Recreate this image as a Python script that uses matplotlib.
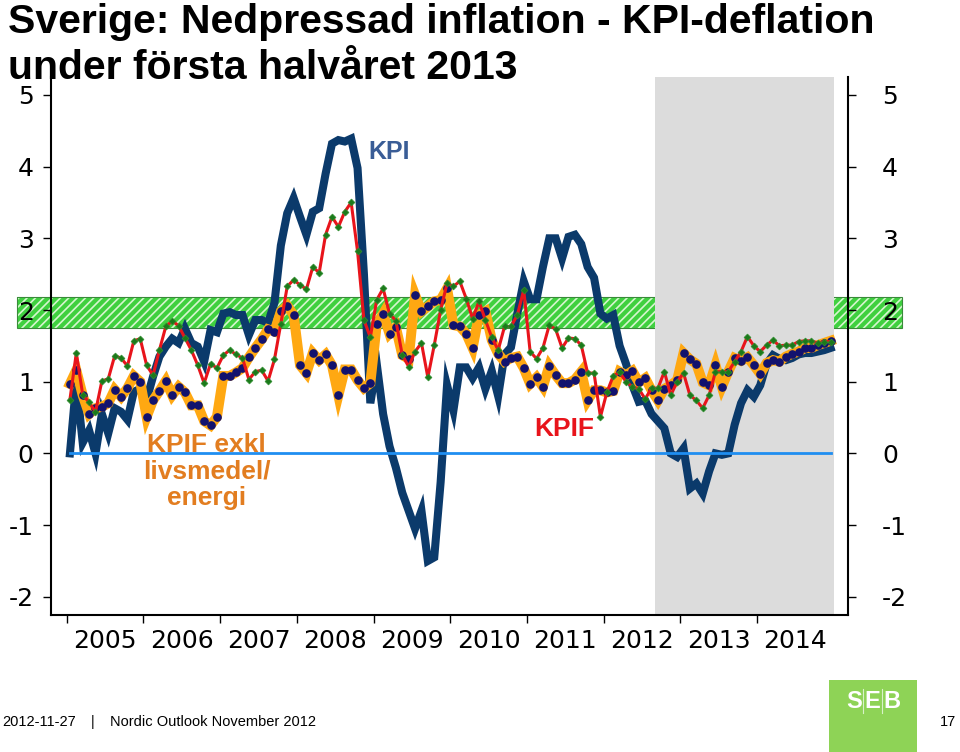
import matplotlib
matplotlib.use("Agg")
import matplotlib.pyplot as plt
import numpy as np
from matplotlib.patches import Rectangle

# --- data (annual change, %, monthly Jan 2005 - Dec 2014) ---
years = [2005, 2006, 2007, 2008, 2009, 2010, 2011, 2012, 2013, 2014]
year_labels = [str(y) for y in years]
yticks = [-2, -1, 0, 1, 2, 3, 4, 5]
ytick_labels = ["-2", "-1", "0", "1", "2", "3", "4", "5"]

kpi = [
    0.0, 1.0, 0.15, 0.32, 0.0, 0.55, 0.28, 0.63, 0.58, 0.47, 0.86, 0.9,
    0.75, 1.07, 1.35, 1.49, 1.6, 1.54, 1.74, 1.54, 1.49, 1.28, 1.72, 1.69,
    1.95, 1.97, 1.93, 1.93, 1.65, 1.86, 1.86, 1.82, 2.1, 2.9, 3.35, 3.56,
    3.3, 3.05, 3.37, 3.42, 3.9, 4.32, 4.37, 4.35, 4.39, 3.98, 2.5, 0.7,
    1.25, 0.55, 0.1, -0.2, -0.55, -0.8, -1.05, -0.8, -1.5, -1.45, -0.4, 0.95,
    0.6, 1.2, 1.2, 1.05, 1.2, 0.9, 1.15, 0.8, 1.38, 1.48, 1.95, 2.4,
    2.15, 2.15, 2.6, 3.0, 3.0, 2.72, 3.02, 3.05, 2.92, 2.6, 2.45, 1.95,
    1.88, 1.93, 1.5, 1.25, 0.95, 0.72, 0.74, 0.55, 0.45, 0.35, 0.0, -0.05,
    0.07, -0.49, -0.42, -0.56, -0.25, 0.0, -0.02, 0.0, 0.4, 0.7, 0.88, 0.79,
    0.95, 1.25, 1.37, 1.32, 1.30, 1.33, 1.38, 1.40, 1.40, 1.42, 1.44, 1.47,
]
kpif = [
    0.75, 1.40, 0.82, 0.71, 0.58, 1.01, 1.04, 1.36, 1.33, 1.22, 1.57, 1.60,
    1.23, 1.09, 1.44, 1.77, 1.85, 1.78, 1.61, 1.44, 1.23, 0.98, 1.25, 1.19,
    1.37, 1.44, 1.38, 1.33, 1.03, 1.14, 1.16, 1.01, 1.31, 1.81, 2.33, 2.42,
    2.35, 2.29, 2.60, 2.52, 3.05, 3.30, 3.16, 3.37, 3.50, 2.82, 1.86, 1.62,
    2.14, 2.30, 1.95, 1.85, 1.37, 1.21, 1.42, 1.54, 1.06, 1.51, 2.0, 2.37,
    2.33, 2.40, 2.16, 1.88, 2.12, 1.86, 1.62, 1.44, 1.77, 1.77, 1.93, 2.28,
    1.42, 1.32, 1.47, 1.79, 1.73, 1.47, 1.61, 1.60, 1.51, 1.12, 1.12, 0.51,
    0.85, 1.08, 1.13, 1.0, 0.93, 0.9, 0.76, 0.91, 0.91, 1.14, 0.81, 1.0,
    1.12, 0.81, 0.74, 0.63, 0.81, 1.14, 1.14, 1.14, 1.28, 1.42, 1.63, 1.50,
    1.42, 1.51, 1.58, 1.50, 1.51, 1.51, 1.56, 1.57, 1.57, 1.54, 1.56, 1.56,
]
kpif_exkl = [
    0.97, 1.16, 0.81, 0.55, 0.63, 0.65, 0.70, 0.89, 0.79, 0.91, 1.08, 1.0,
    0.51, 0.74, 0.87, 1.01, 0.81, 0.93, 0.85, 0.67, 0.67, 0.45, 0.39, 0.51,
    1.08, 1.08, 1.13, 1.19, 1.34, 1.47, 1.59, 1.73, 1.70, 1.98, 2.06, 1.93,
    1.23, 1.12, 1.40, 1.30, 1.38, 1.23, 0.81, 1.17, 1.17, 1.02, 0.91, 0.98,
    1.80, 1.95, 1.67, 1.76, 1.37, 1.32, 2.21, 1.98, 2.05, 2.12, 2.14, 2.30,
    1.79, 1.77, 1.67, 1.47, 1.93, 1.98, 1.58, 1.39, 1.28, 1.33, 1.35, 1.19,
    0.97, 1.06, 0.93, 1.22, 1.09, 0.98, 0.98, 1.03, 1.14, 0.74, 0.88, 0.88,
    0.85, 0.87, 1.14, 1.09, 1.15, 0.99, 1.05, 0.88, 0.74, 0.9, 0.95, 1.02,
    1.40, 1.31, 1.25, 0.99, 0.95, 1.23, 0.93, 1.14, 1.33, 1.29, 1.34, 1.23,
    1.11, 1.26, 1.30, 1.28, 1.35, 1.39, 1.42, 1.47, 1.47, 1.51, 1.54, 1.57,
]

forecast_start, forecast_end = 2012.667, 2015.0
target_low, target_high = 1.75, 2.18

months = 2005 + (np.arange(len(kpi)) + 0.5) / 12

plt.rcParams["hatch.linewidth"] = 1.2
plt.rcParams["font.family"] = ["DejaVu Sans"]
TXT = ["Liberation Sans", "DejaVu Sans"]

fig = plt.figure(figsize=(9.6, 7.52), dpi=100)
ax = fig.add_axes([51 / 960, 1 - 614.7 / 752, 797 / 960, 537.7 / 752])
ax.set_xlim(2004.795, 2015.186)
ax.set_ylim(-2.25, 5.25)

# inflation target band (spills outside the axes like in the slide)
band_x0, band_x1 = 2004.352, 2015.887
ax.add_patch(Rectangle((band_x0, target_low), band_x1 - band_x0, target_high - target_low,
                       facecolor="#3fd03f", edgecolor="#d6f6cf", hatch="////", lw=0,
                       zorder=0.5, clip_on=False))
ax.add_patch(Rectangle((band_x0, target_low), band_x1 - band_x0, target_high - target_low,
                       fill=False, edgecolor="#3a8a3a", lw=0.8, zorder=0.55, clip_on=False))

# forecast period
ax.axvspan(forecast_start, forecast_end, color="#dcdcdc", lw=0, zorder=0.6)

ax.plot(months, kpi, color="#0b3a6b", lw=5.8, solid_joinstyle="miter", zorder=2)
ax.plot([months[0], months[-1]], [0, 0], color="#1f8ef1", lw=2, zorder=2.5)
ax.plot(months, kpif_exkl, color="#ffa812", lw=7.2, solid_joinstyle="miter",
        marker="o", ms=5.2, mfc="#12126e", mec="#12126e", zorder=3)
ax.plot(months, kpif, color="#e8141b", lw=2.2, marker="D", ms=3.5,
        mfc="#1b7a1b", mec="#2f8f2f", mew=0.5, zorder=4)

ax.text(2009.202, 4.20, "KPI", color="#3a5d96", fontsize=18, fontweight="bold",
        family=TXT, ha="center", va="center")
ax.text(2011.484, 0.34, "KPIF", color="#e8141b", fontsize=19, fontweight="bold",
        family=TXT, ha="center", va="center")
ax.text(2006.825, -0.255, "KPIF exkl\nlivsmedel/\nenergi", color="#e27d20", fontsize=19,
        fontweight="bold", family=TXT, ha="center", va="center", linespacing=1.12)

# axes styling
for s in ["top", "right"]:
    ax.spines[s].set_visible(False)
for s in ["left", "bottom"]:
    ax.spines[s].set_linewidth(1.5)
ax.set_yticks(yticks)
ax.set_yticklabels(ytick_labels)
ax.tick_params(axis="y", length=6, width=1, labelsize=18, pad=6.5)
ax.set_xticks(years)
ax.set_xticklabels([])
ax.set_xticks(np.array(years) + 0.5, minor=True)
ax.set_xticklabels(year_labels, minor=True)
ax.tick_params(axis="x", which="major", length=6, width=1)
ax.tick_params(axis="x", which="minor", length=0, labelsize=18, pad=10)

ax2 = ax.twinx()
ax2.set_ylim(ax.get_ylim())
ax2.set_yticks(yticks)
ax2.set_yticklabels(ytick_labels)
ax2.tick_params(axis="y", length=6, width=1, labelsize=18, pad=18.5)
for s in ["top", "left", "bottom"]:
    ax2.spines[s].set_visible(False)
ax2.spines["right"].set_linewidth(1.5)

# title
fig.text(8 / 960, 1 - 33 / 752, "Sverige: Nedpressad inflation - KPI-deflation",
         fontsize=29.5, fontweight="bold", family=TXT, va="baseline")
fig.text(8 / 960, 1 - 79 / 752, "under första halvåret 2013",
         fontsize=29.5, fontweight="bold", family=TXT, va="baseline")

# footer
fy = 1 - 722 / 752
fig.text(2 / 960, fy, "2012-11-27", fontsize=10.5, family=TXT, va="center")
fig.text(93 / 960, fy, "|", fontsize=10.5, family=TXT, va="center", ha="center")
fig.text(110 / 960, fy, "Nordic Outlook November 2012", fontsize=10.5, family=TXT, va="center")
fig.text(948 / 960, fy, "17", fontsize=10.5, family=TXT, va="center", ha="center")

# SEB logo block
fig.patches.append(Rectangle((829 / 960, 0), 88 / 960, 72 / 752, transform=fig.transFigure,
                             facecolor="#8ed356", edgecolor="none", zorder=1))
for letter, lx in zip(["S", "E", "B"], [853.8, 872.5, 891.7]):
    fig.text(lx / 960, 1 - 701 / 752, letter, color="white", fontsize=17, fontweight="bold",
             family=TXT, ha="center", va="center", zorder=3)
for sx in [862.9, 881.9]:
    fig.lines.append(plt.Line2D([sx / 960, sx / 960], [1 - 689 / 752, 1 - 713 / 752],
                                transform=fig.transFigure, color="#d8f2c8", lw=0.8, zorder=3))

fig.savefig("out.png", dpi=100)
